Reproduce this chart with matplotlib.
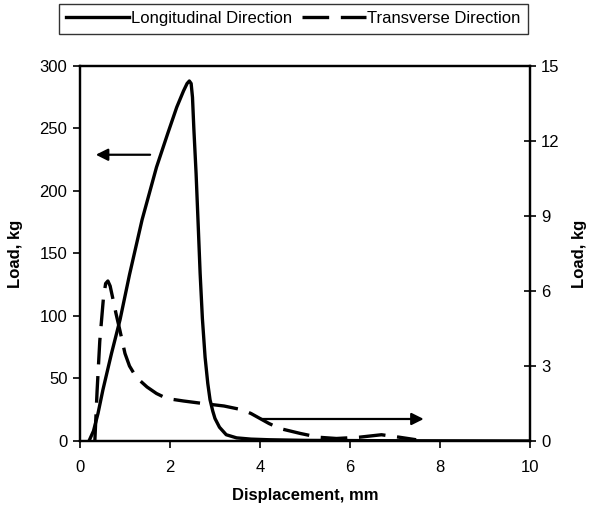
import numpy as np
import matplotlib.pyplot as plt

plt.rcParams['font.family'] = ['Liberation Sans', 'DejaVu Sans']

# longitudinal direction, left axis (kg)
long_x = [0.2, 0.3, 0.4, 0.51, 0.7, 0.89, 1.1, 1.38, 1.7, 1.95, 2.15, 2.3, 2.38, 2.43, 2.47, 2.5, 2.53, 2.58, 2.63, 2.67, 2.72, 2.78, 2.84, 2.89, 2.95, 3.0, 3.1, 3.25, 3.48, 3.8, 4.2, 5.0, 7.0, 10.0]
long_y = [0, 8, 22, 41, 70, 97, 133, 177, 219, 246, 267, 280, 286, 288, 286, 275, 250, 214, 170, 134, 98, 67, 46, 33, 24, 18, 11, 5, 2.5, 1.5, 1, 0.5, 0.2, 0]

# transverse direction, right axis (kg)
trans_x = [0.33, 0.38, 0.44, 0.52, 0.57, 0.62, 0.67, 0.73, 0.8, 0.89, 1.0, 1.1, 1.25, 1.49, 1.7, 1.93, 2.3, 2.73, 3.2, 3.6, 3.8, 4.0, 4.2, 4.44, 4.9, 5.3, 5.7, 6.2, 6.7, 7.1, 7.47]
trans_y = [0, 2.0, 4.0, 5.7, 6.3, 6.4, 6.2, 5.7, 5.1, 4.4, 3.5, 3.0, 2.55, 2.16, 1.9, 1.7, 1.6, 1.5, 1.4, 1.25, 1.1, 0.9, 0.7, 0.5, 0.3, 0.15, 0.1, 0.15, 0.25, 0.15, 0.05]

fig = plt.figure(figsize=(5.89, 5.08), dpi=100)
ax = fig.add_axes([0.1358, 0.1319, 0.7640, 0.7382])
ax2 = ax.twinx()

l1, = ax.plot(long_x, long_y, color='black', lw=2.4, label='Longitudinal Direction')
l2, = ax2.plot(trans_x, trans_y, color='black', lw=2.4, dashes=(8, 3.5), label='Transverse Direction')

ax.set_xlim(0, 10)
ax.set_ylim(0, 300)
ax2.set_ylim(0, 15)
ax.set_xticks(np.arange(0, 11, 2))
ax.set_yticks(np.arange(0, 301, 50))
ax2.set_yticks(np.arange(0, 16, 3))

for a in (ax, ax2):
    for s in a.spines.values():
        s.set_linewidth(1.6)
    a.tick_params(labelsize=12, width=1.2, length=5)
ax.tick_params(axis='y', direction='out', pad=4)
ax.tick_params(axis='x', direction='out', pad=9)
ax2.tick_params(axis='y', direction='inout', length=8, pad=4)

ax.set_xlabel('Displacement, mm', fontsize=12, fontweight='bold', labelpad=9)
ax.set_ylabel('Load, kg', fontsize=12, fontweight='bold', labelpad=12)
ax2.set_ylabel('Load, kg', fontsize=12, fontweight='bold', labelpad=9)

# arrows pointing to the axis each curve belongs to
ax.annotate('', xy=(0.29, 229), xytext=(1.62, 229),
            arrowprops=dict(arrowstyle='-|>', color='black', lw=1.6, mutation_scale=18))
ax.annotate('', xy=(7.7, 17.6), xytext=(3.96, 17.6),
            arrowprops=dict(arrowstyle='-|>', color='black', lw=1.6, mutation_scale=18))

leg = fig.legend(handles=[l1, l2], loc='center', bbox_to_anchor=(0.498, 0.963), ncol=2,
                 fontsize=12, frameon=True, fancybox=False, handlelength=3.8,
                 handletextpad=0.1, columnspacing=0.6, borderpad=0.45, borderaxespad=0)
leg.get_frame().set_edgecolor('black')
leg.get_frame().set_linewidth(1.0)

plt.savefig('out.png', dpi=100)
